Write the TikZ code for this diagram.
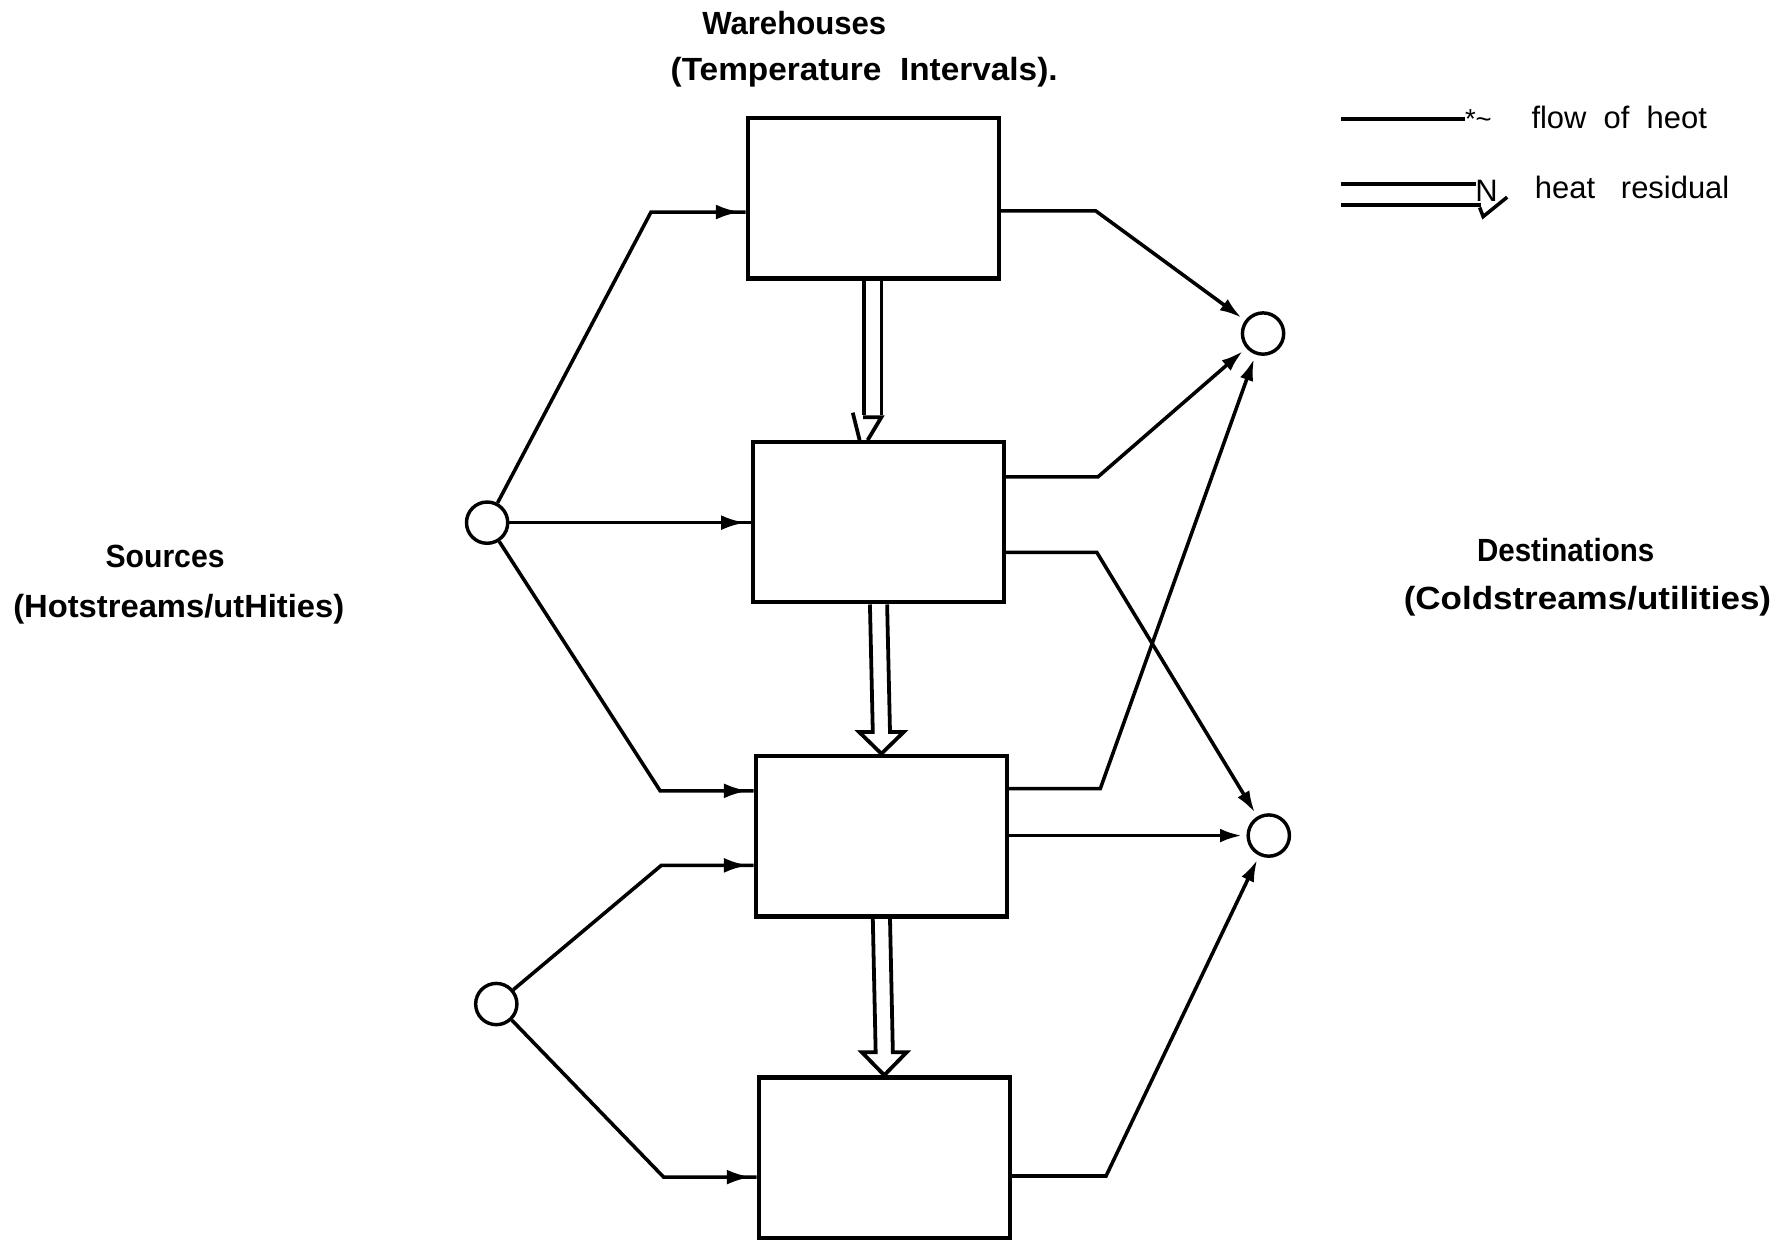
\documentclass[tikz,border=0pt]{standalone}
\usepackage{fontspec}
\setmainfont{Liberation Sans}
\usepackage{graphicx}
\usetikzlibrary{arrows.meta,decorations.markings,calc}
\begin{document}
\begin{tikzpicture}[x=1pt,y=-1pt,
  box/.style={draw,line width=3.8pt,minimum width=219pt,minimum height=140pt,inner sep=0pt},
  port/.style={draw,circle,line width=3pt,minimum size=36pt,inner sep=0pt},
  flow/.style={line width=3.1pt},
  into/.style={flow,postaction={decorate},decoration={markings,mark=at position -5pt with {\arrow{Latex[length=21pt,width=13pt]}}}},
  tocirc/.style={flow,-{Latex[length=19pt,width=12pt]},shorten >=4pt},
  res/.style={line width=3.3pt,line join=miter},
  ttl/.style={font=\fontsize{28}{32}\selectfont\bfseries,inner sep=0pt,anchor=base},
  leg/.style={font=\fontsize{27}{30}\selectfont,inner sep=0pt,anchor=base west}
]
\useasboundingbox (0,0) rectangle (1560,1088);

% titles
\node[ttl] (tw) at (693,30) {\scalebox{0.97}[1]{Warehouses}};
\node[ttl] (tt) at (754,70) {\scalebox{1.04}[1]{(Temperature\ \ Intervals).}};
\node[ttl] (ts) at (144,495) {\scalebox{0.94}[1]{Sources}};
\node[ttl] (th) at (156,539) {\scalebox{1.02}[1]{(Hotstreams/utHities)}};
\node[ttl] (td) at (1366,490) {\scalebox{0.92}[1]{Destinations}};
\node[ttl] (tc) at (1385,532) {\scalebox{1.09}[1]{(Coldstreams/utilities)}};

% boxes
\node[box] (B1) at (762,173) {};
\node[box] (B2) at (766.5,455.5) {};
\node[box] (B3) at (769,729.5) {};
\node[box] (B4) at (771.5,1010) {};

% circles
\node[port] (C1) at (425,456) {};
\node[port] (C2) at (433,876) {};
\node[port] (D1) at (1102,291) {};
\node[port] (D2) at (1107,729) {};

% sources to warehouses
\draw[into] (C1) -- (568,185) -- (B1.west |- 0,185);
\draw[into] (C1) -- (B2.west |- C1);
\draw[into] (C1) -- (576,690) -- (B3.west |- 0,690);
\draw[into] (C2) -- (577,755) -- (B3.west |- 0,755);
\draw[into] (C2) -- (579,1027) -- (B4.west |- 0,1027);

% warehouses to destinations
\draw[tocirc] (B1.east |- 0,184) -- (956,184) -- (D1);
\draw[tocirc] (B2.east |- 0,416) -- (958,416) -- (D1);
\draw[tocirc] (B2.east |- 0,482) -- (957,482) -- (D2);
\draw[tocirc] (B3.east |- 0,688) -- (960,688) -- (D1);
\draw[tocirc] (B3.east |- D2) -- (D2);
\draw[tocirc] (B4.east |- 0,1026) -- (965,1026) -- (D2);

% heat residual B1 -> B2
\draw[res] ($(B1.south)+(-8,0)$) -- ++(0,117);
\draw[res] ($(B1.south)+(7,0)$) -- ++(0,117);
\draw[res] (744,360) -- (750,384);
\draw[res] (753,364) -- (769,364) -- (757,384);

% heat residual B2 -> B3
\draw[res] ($(B2.south)+(-7.5,0)$) -- ($(B3.north)+(-7.5,-19)$) -- ($(B3.north)+(-19.5,-19)$)
  -- (B3.north) -- ($(B3.north)+(19.5,-19)$) -- ($(B3.north)+(7.5,-19)$) -- ($(B2.south)+(7.5,0)$);
% heat residual B3 -> B4
\draw[res] ($(B3.south)+(-7.5,0)$) -- ($(B4.north)+(-7.5,-20)$) -- ($(B4.north)+(-19.5,-20)$)
  -- (B4.north) -- ($(B4.north)+(19.5,-20)$) -- ($(B4.north)+(7.5,-20)$) -- ($(B3.south)+(7.5,0)$);

% legend
\coordinate (L1a) at (1170,104);
\coordinate (L1b) at (1278,104);
\draw[flow] (L1a) -- (L1b);
\node[inner sep=0pt,anchor=base west,font=\fontsize{24}{24}\selectfont] (ls) at (1278,112) {*\textasciitilde};
\node[leg] (lf) at (1336,112) {flow\ \ of\ \ heot};
\coordinate (L2a) at (1170,160.5);
\coordinate (L2b) at (1288,160.5);
\coordinate (L3a) at (1170,179);
\coordinate (L3b) at (1292,179);
\draw[line width=3pt] (L2a) -- (L2b);
\draw[line width=3.6pt] (L3a) -- (L3b);
\node[inner sep=0pt,anchor=base west,font=\fontsize{27}{30}\selectfont] (ln) at (1287,176) {N};
\draw[flow] (1291,181) -- (1294,189) -- (1315,172);
\node[leg] (lr) at (1339,173) {heat\ \ \ residual};
\end{tikzpicture}
\end{document}
